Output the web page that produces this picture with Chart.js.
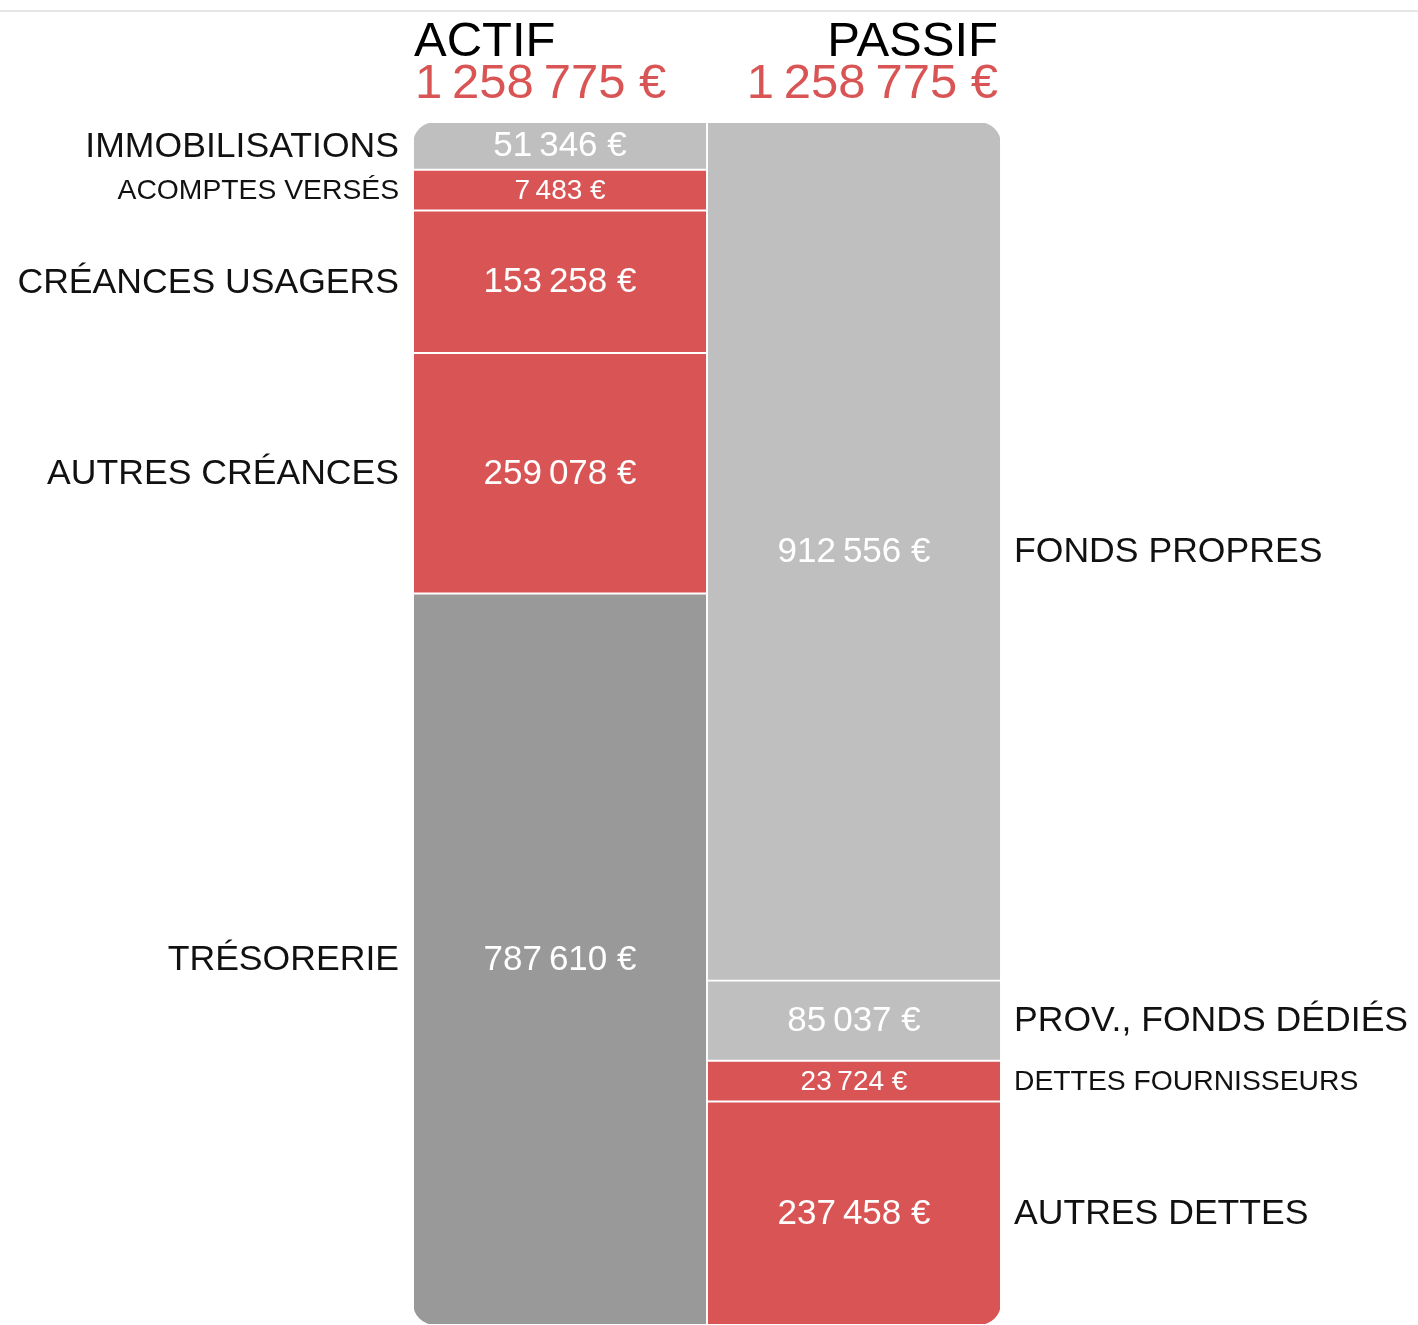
<!DOCTYPE html>
<html>
<head>
<meta charset="utf-8">
<title>Bilan – Actif / Passif</title>
<script src="https://cdn.jsdelivr.net/npm/chart.js@4/dist/chart.umd.min.js"></script>
<style>
  html, body { margin: 0; padding: 0; background: #fff; }
  #wrap { position: relative; width: 1418px; height: 1325px; overflow: hidden; }
  #wrap canvas { position: absolute; left: 0; top: 0; }
  .topline { position: absolute; left: 0; top: 10px; width: 1418px; height: 0; border-top: 2px solid #e6e6e6; z-index: 2; }
</style>
</head>
<body>
<div id="wrap">
  <canvas id="bilan" width="1418" height="1325"></canvas>
  <div class="topline"></div>
</div>
<script>
// Bilan : actif / passif
var COLUMNS = ['ACTIF', 'PASSIF'];

var ACTIF_LABELS = ['IMMOBILISATIONS', 'ACOMPTES VERSÉS', 'CRÉANCES USAGERS', 'AUTRES CRÉANCES', 'TRÉSORERIE'];
var ACTIF_VALUES = [51346, 7483, 153258, 259078, 787610];
var ACTIF_COLORS = ['#bfbfbf', '#d95555', '#d95555', '#d95555', '#999999'];

var PASSIF_LABELS = ['FONDS PROPRES', 'PROV., FONDS DÉDIÉS', 'DETTES FOURNISSEURS', 'AUTRES DETTES'];
var PASSIF_VALUES = [912556, 85037, 23724, 237458];
var PASSIF_COLORS = ['#bfbfbf', '#bfbfbf', '#d95555', '#d95555'];

var RED = '#d95555';
var FONT = '"Liberation Sans", Arial, sans-serif';
var MIN_SHARE = 0.034;   // les petits postes gardent une hauteur lisible

function sum(arr) { return arr.reduce(function (a, b) { return a + b; }, 0); }

function fmtEuro(v) {
  return String(v).replace(/\B(?=(\d{3})+(?!\d))/g, '\u2009') + ' €';
}

// hauteur affichée : minimum pour les petits postes, le reste remis à l'échelle
function displayValues(values) {
  var total = sum(values);
  var min = total * MIN_SHARE;
  var small = values.filter(function (v) { return v < min; });
  var big = values.filter(function (v) { return v >= min; });
  var k = (total - small.length * min) / sum(big);
  return values.map(function (v) { return v < min ? min : v * k; });
}

var actifShown = displayValues(ACTIF_VALUES);
var passifShown = displayValues(PASSIF_VALUES);
var TOTAL = sum(ACTIF_VALUES);

var datasets = [];
ACTIF_LABELS.forEach(function (lbl, i) {
  datasets.push({ label: lbl, side: 0, raw: ACTIF_VALUES[i], data: [actifShown[i], null], backgroundColor: ACTIF_COLORS[i] });
});
PASSIF_LABELS.forEach(function (lbl, i) {
  datasets.push({ label: lbl, side: 1, raw: PASSIF_VALUES[i], data: [null, passifShown[i]], backgroundColor: PASSIF_COLORS[i] });
});

// coins arrondis sur le bloc complet
var roundClip = {
  id: 'roundClip',
  beforeDatasetsDraw: function (chart) {
    var a = chart.chartArea, ctx = chart.ctx;
    ctx.save();
    ctx.beginPath();
    ctx.roundRect(a.left, a.top, a.right - a.left, a.bottom - a.top, 22);
    ctx.clip();
  },
  afterDatasetsDraw: function (chart) {
    chart.ctx.restore();
  }
};

var bilanLabels = {
  id: 'bilanLabels',
  afterDraw: function (chart) {
    var ctx = chart.ctx, a = chart.chartArea;
    ctx.save();
    ctx.textBaseline = 'alphabetic';

    // titres
    ctx.font = '49px ' + FONT;
    ctx.fillStyle = '#000';
    ctx.textAlign = 'left';
    ctx.fillText(COLUMNS[0], a.left + 1, 56);
    ctx.textAlign = 'right';
    ctx.fillText(COLUMNS[1], a.right - 3, 56);
    ctx.fillStyle = RED;
    ctx.textAlign = 'left';
    ctx.fillText(fmtEuro(TOTAL), a.left + 2, 98);
    ctx.textAlign = 'right';
    ctx.fillText(fmtEuro(sum(PASSIF_VALUES)), a.right - 3, 98);

    ctx.textBaseline = 'middle';
    chart.data.datasets.forEach(function (ds, di) {
      var el = chart.getDatasetMeta(di).data[ds.side];
      if (!el) return;
      var h = Math.abs(el.base - el.y);
      var cy = (el.y + el.base) / 2 + 1;
      var small = h < 45;
      ctx.font = (small ? 28 : 35) + 'px ' + FONT;
      ctx.fillStyle = '#fff';
      ctx.textAlign = 'center';
      ctx.fillText(fmtEuro(ds.raw), el.x, cy);
      ctx.font = (small ? 28.3 : 35.6) + 'px ' + FONT;
      ctx.fillStyle = '#111';
      if (ds.side === 0) {
        ctx.textAlign = 'right';
        ctx.fillText(ds.label, a.left - 14, cy);
      } else {
        ctx.textAlign = 'left';
        ctx.fillText(ds.label, a.right + 13, cy);
      }
    });
    ctx.restore();
  }
};

new Chart(document.getElementById('bilan'), {
  type: 'bar',
  data: { labels: COLUMNS, datasets: datasets },
  options: {
    responsive: false,
    animation: false,
    devicePixelRatio: 1,
    layout: { padding: { left: 413, right: 417, top: 122, bottom: 0 } },
    datasets: {
      bar: {
        barPercentage: 1,
        categoryPercentage: 1,
        borderColor: '#fff',
        borderWidth: 1.3,
        borderSkipped: false,
        skipNull: true
      }
    },
    plugins: {
      legend: { display: false },
      tooltip: { enabled: false },
      title: { display: false }
    },
    scales: {
      x: { stacked: true, display: false },
      y: { stacked: true, display: false, reverse: true, min: 0, max: TOTAL }
    }
  },
  plugins: [roundClip, bilanLabels]
});
</script>
</body>
</html>
